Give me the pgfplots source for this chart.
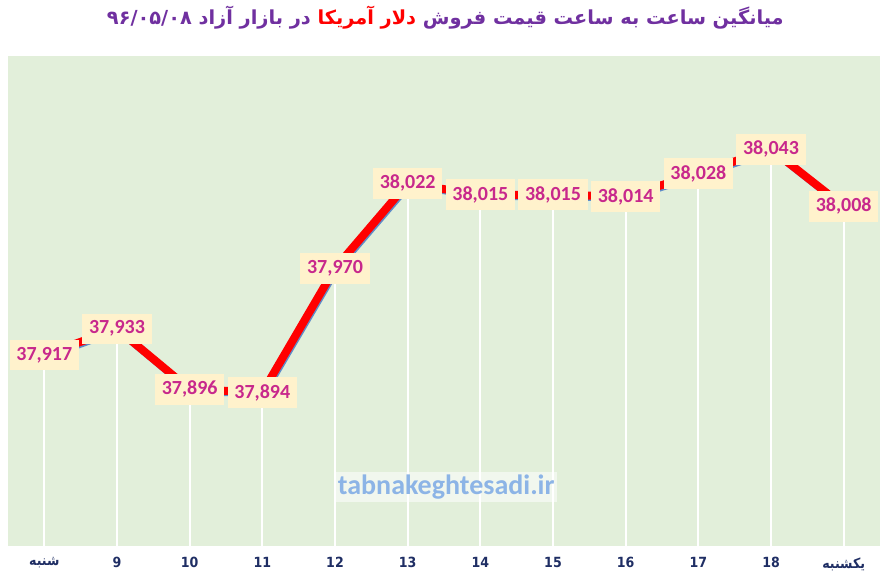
\documentclass[border=0pt]{standalone}
\usepackage{pgfplots}
\pgfplotsset{compat=1.18}
\usepackage{pgfplotstable}
\usepackage{fontspec}
\setmainfont{Carlito}
\newfontfamily\arabicfont[Script=Arabic]{DejaVu Sans}
\newfontfamily\tickfont[Script=Arabic]{DejaVu Sans Condensed}
\TeXXeTstate=1
\definecolor{bgc}{RGB}{226,239,218}
\definecolor{lblfill}{RGB}{255,242,204}
\definecolor{lbltext}{RGB}{200,40,140}
\definecolor{navy}{RGB}{31,46,100}
\definecolor{ttl}{RGB}{112,48,160}
\definecolor{shad}{RGB}{95,140,200}
\definecolor{wm}{RGB}{140,180,230}
\pgfplotstableread{
x y lab
0 37917 37,917
1 37933 37,933
2 37896 37,896
3 37894 37,894
4 37970 37,970
5 38022 38,022
6 38015 38,015
7 38015 38,015
8 38014 38,014
9 38028 38,028
10 38043 38,043
11 38008 38,008
}\data
\begin{document}
\begin{tikzpicture}
\useasboundingbox[fill=white] (0,0) rectangle (668.25pt,439.5pt);
\node[font=\arabicfont\bfseries\fontsize{14.5}{17}\selectfont] at (334pt,426.5pt)
 {\textcolor{ttl}{۹۶/۰۵/۰۸} \textcolor{ttl}{\beginR در بازار آزاد\endR} \textcolor{red}{\beginR دلار آمریکا\endR} \textcolor{ttl}{\beginR میانگین ساعت به ساعت قیمت فروش\endR}};
\begin{axis}[at={(6pt,30pt)}, anchor=south west, scale only axis,
  width=654pt, height=367.5pt,
  xmin=-0.5, xmax=11.5, ymin=37800, ymax=38100,
  axis line style={draw=none},
  axis background/.style={fill=bgc},
  ytick=\empty, xtick={0,...,11},
  xticklabels={{\beginR شنبه\endR},9,10,11,12,13,14,15,16,17,18,{\beginR یکشنبه\endR}},
  major tick length=0pt,
  x tick label style={font=\tickfont\bfseries\fontsize{10.5}{12}\selectfont, text=navy, yshift=-5pt},
]
\addplot[ycomb, white, line width=1.5pt, mark=none] table[x=x,y=y] {\data};
\addplot[shad, line width=5pt, mark=none, shift={(1pt,-1.5pt)}] table[x=x,y=y] {\data};
\addplot[red, line width=6pt, mark=none] table[x=x,y=y] {\data};
\node[font=\bfseries\fontsize{21}{24}\selectfont, text=wm, fill=white, fill opacity=0.55, text opacity=1, inner sep=2pt] at (axis cs:5.53,37836) {tabnakeghtesadi.ir};
\addplot[draw=none, mark=none, nodes near coords, point meta=explicit symbolic,
  every node near coord/.append style={anchor=center, fill=lblfill, text=lbltext,
   font=\bfseries\fontsize{15}{18}\selectfont, inner xsep=5pt, inner ysep=5.5pt}]
  table[x=x,y=y,meta=lab] {\data};
\end{axis}
\end{tikzpicture}
\end{document}
